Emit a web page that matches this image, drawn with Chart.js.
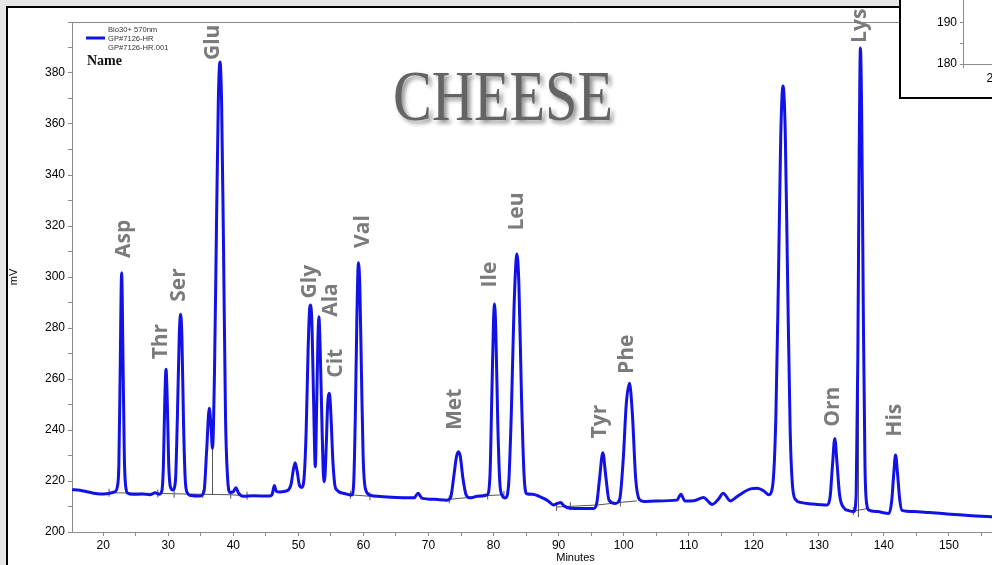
<!DOCTYPE html>
<html>
<head>
<meta charset="utf-8">
<title>CHEESE - amino acid chromatogram</title>
<script src="https://cdn.jsdelivr.net/npm/chart.js@4.4.1/dist/chart.umd.min.js"></script>
<style>
  html, body { margin: 0; padding: 0; width: 992px; height: 565px; overflow: hidden; background: #e6e6e6; }
  #frame { position: absolute; left: 6px; top: 6px; width: 1200px; height: 700px; background: #fff; border: 2px solid #000; }
  #main { position: absolute; left: 0; top: 0; }
  #insetBox { position: absolute; left: 899px; top: -22px; width: 222px; height: 117px; background: #fff; border: 2px solid #000; }
  #inset { display: block; }
</style>
</head>
<body>
<div id="frame"></div>
<canvas id="main" width="1100" height="565"></canvas>
<div id="insetBox"><canvas id="inset" width="222" height="117"></canvas></div>
<script>
"use strict";

// Trace (minutes, mV)
const traceTime = [
  15.2, 16.4, 17.5, 18.5, 19.5, 20.5, 21.4, 21.9, 22.15, 22.4, 22.6, 22.83, 23.05, 23.25, 23.5, 23.8,
  24.5, 26.0, 27.2, 28.0, 28.6, 29.0, 29.25, 29.45, 29.65, 29.85, 30.05, 30.3, 30.7, 31.1, 31.4, 31.7,
  31.9, 32.1, 32.35, 32.6, 32.9, 33.5, 34.9, 35.5, 35.9, 36.3, 36.55, 36.8, 37.1, 37.4, 37.7, 37.95,
  38.2, 38.5, 38.8, 39.1, 39.5, 40.0, 40.4, 40.8, 41.5, 43.0, 45.6, 46.0, 46.3, 46.6, 47.2, 48.3,
  48.9, 49.2, 49.5, 49.8, 50.2, 50.5, 50.9, 51.2, 51.5, 51.75, 51.9, 52.1, 52.35, 52.6, 52.8, 53.0, 53.15,
  53.35, 53.6, 53.8, 54.0, 54.3, 54.5, 54.77, 55.0, 55.3, 55.6, 55.9, 57.2, 58.2, 58.5, 58.75, 59.0,
  59.23, 59.45, 59.7, 59.95, 60.3, 61.0, 62.6, 65.0, 67.8, 68.4, 69.0, 71.0, 72.8, 73.4, 73.9, 74.3,
  74.6, 74.9, 75.3, 75.8, 76.4, 77.5, 79.0, 79.45, 79.75, 80.0, 80.15, 80.35, 80.65, 80.95, 81.3, 81.8,
  82.3, 82.75, 83.15, 83.6, 83.9, 84.3, 84.7, 85.1, 86.0, 87.0, 87.7, 88.5, 89.2, 89.8, 90.3, 90.8,
  91.8, 93.5, 95.4, 95.9, 96.3, 96.8, 97.25, 97.75, 98.7, 99.4, 99.95, 100.4, 100.9, 101.35, 101.85, 102.4,
  103.1, 105.0, 108.2, 108.8, 109.4, 110.8, 112.3, 113.0, 113.6, 114.6, 115.3, 116.4, 117.5, 118.7, 119.5, 120.5,
  121.5, 122.3, 122.9, 123.4, 123.8, 124.15, 124.5, 124.85, 125.2, 125.6, 126.0, 126.5, 127.2, 129.0, 131.3, 131.75,
  132.1, 132.46, 132.8, 133.2, 133.85, 134.6, 135.4, 135.75, 136.0, 136.2, 136.4, 136.6, 136.85, 137.1, 137.4, 137.7,
  139.0, 140.8, 141.2, 141.5, 141.8, 142.1, 142.45, 142.8, 144.6, 147.0, 149.75, 153.0, 156.7, 160.0, 170.0
];
const traceMv = [
  216.6, 216.4, 215.8, 215.2, 214.9, 215.0, 215.5, 216.0, 217.5, 226, 262, 301.7, 266, 229, 217, 215.2,
  214.8, 214.9, 214.6, 215.4, 214.8, 216, 226, 250, 263.8, 251, 228, 218, 216.5, 220, 245, 278,
  285.4, 276, 242, 221, 215.5, 214.3, 214.1, 216, 232, 248.5, 242, 232.8, 262, 318, 370, 384.3,
  368, 310, 245, 222, 215.5, 215.8, 217.4, 215.2, 214.0, 214.2, 214.1, 215, 218.2, 216, 215.7, 216.2,
  219, 224, 227.2, 224, 218, 217.5, 222, 240, 272, 288, 289, 280, 250, 225.6, 248, 275, 284.4,
  272, 245, 225, 219.7, 235, 250, 254.4, 246, 228, 218.5, 216.5, 215, 214.5, 219, 245, 285,
  305.6, 296, 262, 230, 217, 214.5, 213.9, 213.5, 213.4, 215.2, 213.3, 212.8, 212.5, 213.5, 222, 229.5,
  231.5, 229.5, 221, 214.5, 213.4, 214, 214.5, 222, 255, 283, 289.4, 279, 243, 220, 214.5, 213.3,
  218, 248, 288, 309, 297, 253, 222, 215, 214.8, 214, 213.2, 212, 210.6, 211.2, 211.6, 210.3,
  209.3, 209.2, 209.2, 211.8, 221, 231.1, 222, 212.5, 211.2, 213, 229, 250, 258.3, 246, 221, 212.8,
  212, 212.2, 212.5, 214.8, 212.2, 212.3, 213.5, 212, 210.8, 213, 215.2, 212.2, 214, 216, 216.9, 217.2,
  216.2, 214.6, 218, 245, 300, 355, 374.9, 356, 300, 240, 217, 212.5, 211.6, 211, 210.6, 214,
  226, 236.7, 227, 214.5, 209.5, 208.4, 208, 215, 268, 345, 389.8, 362, 285, 226, 210.5, 208.6,
  208, 207.3, 212, 222, 230.2, 223, 212.5, 208.5, 208, 207.6, 207.1, 206.5, 206, 205.6, 205
];

// Integration baselines and drop lines (null breaks the line)
const baselineTime = [20.9, 30.9, 39.6, 42.1, 42.1, 36.8, 36.8, 36.8, 58.0, 61.0, 61.0, 73.2, 79.1, 81.6, 81.6,
  89.7, 96.0, 99.5, 102.0, 102.0, 135.3, 137.5, 137.5, 136.1, 136.1];
const baselineMv = [215.4, 215.0, 214.6, 214.2, null, 232.8, 214.8, null, 214.6, 214.0, null, 212.8, 214.3, 214.6, null,
  209.8, 210.6, 211.6, 212.2, null, 208.2, 209.2, null, 309, 206];

// Peak start/end tick marks
const markTime = [20.9, 28.4, 30.9, 35.3, 39.6, 42.1, 58.0, 61.0, 73.2, 79.1, 81.6, 89.7, 91.8, 99.5, 135.3];
const markMv = [215.4, 215.1, 215.0, 214.8, 214.6, 214.2, 214.6, 214.0, 212.8, 214.3, 214.6, 209.8, 210.1, 211.6, 208.2];

// Peak names, anchored at the lower end of each rotated label
const peakNames = ["Asp", "Thr", "Ser", "Glu", "Gly", "Ala", "Cit", "Val", "Met", "Ile", "Leu", "Tyr", "Phe", "Orn", "Lys", "His"];
const peakLabelTime = [23.2, 28.9, 31.7, 36.9, 51.8, 55.0, 55.8, 59.9, 74.1, 79.5, 83.6, 96.4, 100.5, 132.2, 136.4, 141.7];
const peakLabelMv = [307.5, 267.7, 290.3, 385.1, 291.6, 284.4, 260.5, 311.4, 240, 295.9, 318.2, 236.7, 262, 241.3, 391.8, 237.4];

const legendLines = ["Bio30+ 570nm", "GP#7126-HR", "GP#7126-HR.001"];

const tickFont = { family: "'Liberation Sans', Arial, sans-serif", size: 12 };

const decorations = {
  id: "decorations",
  beforeDatasetsDraw(chart) {
    const { ctx, chartArea } = chart;
    ctx.save();
    ctx.strokeStyle = "#8a8a8a";
    ctx.lineWidth = 1;
    ctx.beginPath();
    ctx.moveTo(chartArea.left, chartArea.top + 0.5);
    ctx.lineTo(chartArea.right, chartArea.top + 0.5);
    ctx.stroke();
    ctx.restore();
  },
  afterDatasetsDraw(chart) {
    const { ctx, scales: { x, y } } = chart;
    ctx.save();

    // peak names
    ctx.font = "bold 21px 'Open Sans', sans-serif";
    ctx.fillStyle = "#7b7b7b";
    ctx.textAlign = "left";
    ctx.textBaseline = "middle";
    peakNames.forEach((name, i) => {
      ctx.save();
      ctx.translate(x.getPixelForValue(peakLabelTime[i]), y.getPixelForValue(peakLabelMv[i]));
      ctx.rotate(-Math.PI / 2);
      ctx.fillText(name, 0, 0);
      ctx.restore();
    });

    // legend block
    ctx.strokeStyle = "#1212e6";
    ctx.lineWidth = 3;
    ctx.beginPath();
    ctx.moveTo(86, 38);
    ctx.lineTo(105, 38);
    ctx.stroke();
    ctx.font = "7.6px 'Liberation Sans', Arial, sans-serif";
    ctx.fillStyle = "#333";
    legendLines.forEach((t, i) => ctx.fillText(t, 108, 29.5 + i * 9));
    ctx.font = "bold 14px 'Liberation Serif', serif";
    ctx.fillStyle = "#111";
    ctx.textBaseline = "alphabetic";
    ctx.fillText("Name", 87, 64.5);

    // big title
    ctx.save();
    ctx.translate(503, 120);
    ctx.scale(0.82, 1);
    ctx.font = "71px 'Liberation Serif', serif";
    ctx.textAlign = "center";
    ctx.shadowColor = "rgba(0,0,0,0.45)";
    ctx.shadowOffsetX = 3;
    ctx.shadowOffsetY = 3;
    ctx.shadowBlur = 4;
    ctx.fillStyle = "#646464";
    ctx.fillText("CHEESE", 0, 0);
    ctx.restore();

    ctx.restore();
  },
};

function toPoints(xs, ys) {
  return xs.map((v, i) => ({ x: v, y: ys[i] }));
}

function renderMain() {
  const canvas = document.getElementById("main");
  new Chart(canvas, {
    type: "line",
    data: {
      datasets: [
        {
          label: "GP#7126-HR",
          data: toPoints(traceTime, traceMv),
          borderColor: "#1212e6",
          borderWidth: 3,
          pointRadius: 0,
          cubicInterpolationMode: "monotone",
          fill: false,
          order: 1,
        },
        {
          label: "baseline",
          data: toPoints(baselineTime, baselineMv),
          borderColor: "#555",
          borderWidth: 1,
          pointRadius: 0,
          tension: 0,
          spanGaps: false,
          order: 2,
        },
        {
          label: "marks",
          data: toPoints(markTime, markMv),
          showLine: false,
          pointStyle: "line",
          rotation: 90,
          pointRadius: 4,
          borderColor: "#555",
          borderWidth: 1,
          order: 2,
        },
      ],
    },
    options: {
      responsive: false,
      animation: false,
      layout: { padding: { top: 22, right: 21, left: 0, bottom: 0 } },
      plugins: { legend: { display: false }, tooltip: { enabled: false } },
      scales: {
        x: {
          type: "linear",
          min: 15.2,
          max: 170,
          afterFit: (s) => { s.height = 33; },
          border: { color: "#8c8c8c", dash: [3, 2] },
          grid: { drawOnChartArea: false, tickLength: 4, color: "#8c8c8c" },
          ticks: {
            stepSize: 5,
            includeBounds: false,
            maxRotation: 0,
            autoSkip: false,
            padding: 2,
            color: "#000",
            font: tickFont,
            callback: (v) => (v % 10 === 0 ? v : ""),
          },
          title: { display: true, text: "Minutes", color: "#000", font: { family: tickFont.family, size: 11 }, padding: { top: 0, bottom: 0 } },
        },
        y: {
          min: 200,
          max: 400,
          afterFit: (s) => { s.width = 72; },
          border: { color: "#8c8c8c", dash: [1, 2] },
          grid: { drawOnChartArea: false, tickLength: 4, color: "#8c8c8c" },
          ticks: {
            stepSize: 10,
            autoSkip: false,
            padding: 3,
            color: "#000",
            font: tickFont,
            callback: (v) => (v % 20 === 0 && v < 400 ? v : ""),
          },
          title: { display: true, text: "mV", color: "#000", font: { family: tickFont.family, size: 11 }, padding: { top: 7, bottom: 0 } },
        },
      },
    },
    plugins: [decorations],
  });
}

function renderInset() {
  const canvas = document.getElementById("inset");
  new Chart(canvas, {
    type: "line",
    data: { datasets: [] },
    options: {
      responsive: false,
      animation: false,
      layout: { padding: 0 },
      plugins: { legend: { display: false }, tooltip: { enabled: false } },
      scales: {
        x: {
          type: "linear",
          min: 15,
          max: 40,
          afterFit: (s) => { s.height = 33; },
          border: { color: "#8c8c8c", dash: [3, 2] },
          grid: { drawOnChartArea: false, tickLength: 4, color: "#8c8c8c" },
          ticks: { stepSize: 5, padding: 3, color: "#000", font: tickFont, callback: (v) => (v % 10 === 0 ? v : "") },
        },
        y: {
          min: 180,
          max: 197.8,
          afterFit: (s) => { s.width = 62; },
          border: { color: "#8c8c8c", dash: [1, 2] },
          grid: { drawOnChartArea: false, tickLength: 3, color: "#8c8c8c" },
          ticks: { stepSize: 5, padding: 3, color: "#000", font: tickFont, callback: (v) => (v % 10 === 0 && v < 197 ? v : "") },
        },
      },
    },
  });
}

renderMain();
renderInset();
</script>
</body>
</html>
